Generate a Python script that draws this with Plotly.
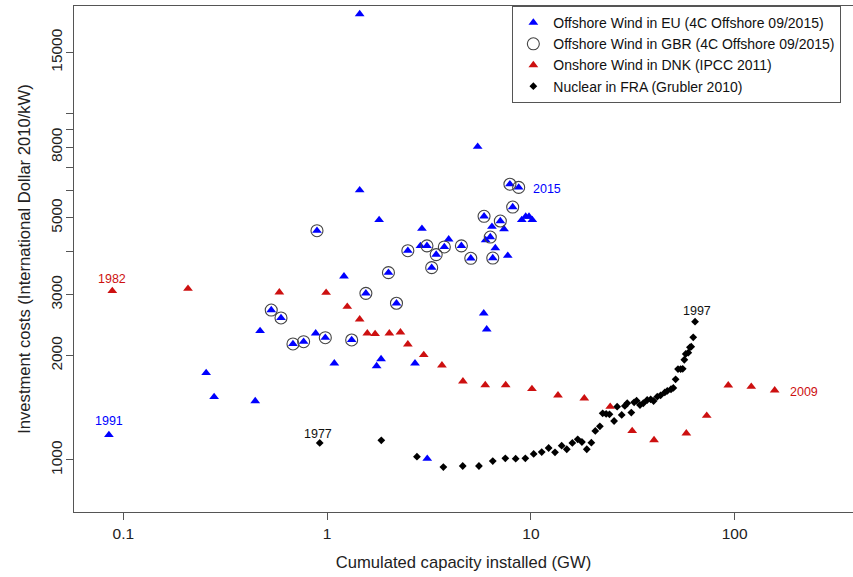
import plotly.graph_objects as go
import numpy as np

# Offshore wind in EU (4C Offshore 09/2015): cumulated capacity (GW), cost ($2010/kW)
eu_x = [0.085, 0.255, 0.279, 0.444, 0.469, 0.532, 0.594, 0.68, 0.767, 0.879, 0.892, 0.98,
        1.085, 1.21, 1.32, 1.445, 1.445, 1.55, 1.75, 1.80, 1.84, 2.0, 2.19, 2.49, 2.70,
        2.87, 2.92, 3.09, 3.10, 3.26, 3.43, 3.76, 3.95, 4.56, 5.07, 5.48, 5.87, 5.89, 6.0,
        6.07, 6.32, 6.44, 6.50, 6.69, 7.08, 7.38, 7.70, 7.89, 8.14, 8.71, 9.02, 9.43, 9.79,
        10.16]
eu_y = [1181, 1783, 1520, 1480, 2357, 2709, 2570, 2162, 2195, 2321, 4590, 2254,
        1901, 3390, 2220, 19370, 6010, 3027, 1867, 4930, 1956, 3473, 2834, 4018, 1901,
        4147, 4650, 4150, 1009, 3590, 3915, 4120, 4335, 4150, 3820, 8020, 2650, 5050, 4314,
        2384, 4400, 4713, 3827, 4090, 4895, 4640, 3888, 6250, 5370, 6120, 4930, 5040, 5040,
        4930]

# Offshore wind in GBR (subset, circled)
gbr_x = [0.532, 0.594, 0.68, 0.767, 0.98, 1.32, 0.892, 1.55, 2.19, 2.0, 2.49, 3.09,
         3.26, 3.43, 3.76, 4.56, 5.07, 6.50, 6.32, 5.89, 7.08, 8.14, 7.89, 8.71]
gbr_y = [2709, 2570, 2162, 2195, 2254, 2220, 4590, 3027, 2834, 3473, 4018, 4150,
         3590, 3915, 4120, 4150, 3820, 3827, 4400, 5050, 4895, 5370, 6250, 6120]

# Onshore wind in DNK (IPCC 2011), 1982-2009
dnk_x = [0.0883, 0.2077, 0.583, 0.989, 1.256, 1.445, 1.575, 1.72, 2.02, 2.29, 2.49, 2.98,
         3.66, 4.64, 5.97, 7.52, 10.12, 13.58, 18.28, 24.5, 31.4, 40.2, 57.9, 72.9, 93.0,
         120.6, 157.1]
dnk_y = [3075, 3122, 3048, 3040, 2770, 2547, 2321, 2311, 2321, 2336, 2157, 2010,
         1876, 1687, 1646, 1646, 1603, 1537, 1507, 1425, 1213, 1142, 1194, 1342, 1643,
         1628, 1589]

# Nuclear in FRA (Grubler 2010), 1977-1997
fra_x = [0.92, 1.845, 2.76, 3.72, 4.63, 5.56, 6.50, 7.49, 8.42, 9.39, 10.32, 11.30, 12.22,
         13.13, 14.16, 15.0, 15.97, 16.97, 17.8, 18.8, 19.8, 20.7, 21.8, 22.5, 23.4, 24.3,
         25.6, 26.5, 27.9, 28.9, 29.7, 31.1, 32.1, 33.0, 34.3, 35.6, 37.2, 38.7, 40.0, 41.7,
         43.3, 45.4, 46.7, 48.7, 50.0, 51.3, 52.7, 54.3, 55.6, 56.6, 57.5, 59.2, 60.3, 61.2,
         62.6, 63.9]
fra_y = [1120, 1140, 1022, 954, 961, 961, 993, 1011, 1009, 1011, 1041, 1054, 1083,
         1052, 1100, 1074, 1120, 1147, 1127, 1074, 1122, 1213, 1251, 1364, 1358, 1355,
         1296, 1425, 1349, 1432, 1458, 1370, 1467, 1483, 1441, 1458, 1490, 1497, 1480, 1523,
         1537, 1567, 1582, 1600, 1614, 1709, 1830, 1830, 1833, 1947, 2023, 2040, 2115, 2123,
         2260, 2508]

x_ticks = [0.1, 1, 10, 100]
x_ticktext = ["0.1", "1", "10", "100"]
y_ticks = [1000, 2000, 3000, 4000, 5000, 6000, 7000, 8000, 9000, 10000, 15000]
y_ticktext = ["1000", "2000", "3000", "", "5000", "", "", "8000", "", "", "15000"]

BLUE = "#0000FF"
RED = "#CD1010"
FONT = "Liberation Sans"

fig = go.Figure()
fig.add_trace(go.Scatter(x=eu_x, y=eu_y, mode="markers",
                         name="Offshore Wind in EU (4C Offshore 09/2015)",
                         marker=dict(symbol="triangle-up", size=8.5, color=BLUE)))
fig.add_trace(go.Scatter(x=gbr_x, y=gbr_y, mode="markers",
                         name="Offshore Wind in GBR (4C Offshore 09/2015)",
                         marker=dict(symbol="circle-open", size=12, color="#444444",
                                     line=dict(width=1.1, color="#444444"))))
fig.add_trace(go.Scatter(x=dnk_x, y=dnk_y, mode="markers",
                         name="Onshore Wind in DNK (IPCC 2011)",
                         marker=dict(symbol="triangle-up", size=8.5, color=RED)))
fig.add_trace(go.Scatter(x=fra_x, y=fra_y, mode="markers",
                         name="Nuclear in FRA (Grubler 2010)",
                         marker=dict(symbol="diamond", size=6, color="black")))

def label(x, y, text, color, xs=0, ys=0):
    fig.add_annotation(x=np.log10(x), y=np.log10(y), text=text, showarrow=False,
                       xshift=xs, yshift=ys, font=dict(family=FONT, size=12.5, color=color))

label(eu_x[0], eu_y[0], "1991", BLUE, 0, 14)
label(gbr_x[-1], gbr_y[-1], "2015", BLUE, 28, -2)
label(dnk_x[0], dnk_y[0], "1982", RED, 0, 12)
label(dnk_x[-1], dnk_y[-1], "2009", RED, 29, -2)
label(fra_x[0], fra_y[0], "1977", "#111111", -2, 9)
label(fra_x[-1], fra_y[-1], "1997", "#111111", 2, 11)

axis_common = dict(showgrid=False, zeroline=False, showline=True, linecolor="#555555",
                   linewidth=1, ticks="outside", ticklen=7, tickcolor="#555555",
                   automargin=False,
                   tickfont=dict(family=FONT, size=15.5, color="#222222"))

fig.update_xaxes(type="log", range=[-1.2419, 2.5805], tickvals=x_ticks, ticktext=x_ticktext,
                 mirror=True,
                 title=dict(text="Cumulated capacity installed (GW)", standoff=15,
                            font=dict(family=FONT, size=16.6, color="#222222")),
                 **axis_common)
fig.update_yaxes(type="log", range=[2.8499, 4.3103], tickvals=y_ticks, ticktext=y_ticktext,
                 tickangle=-90, ticklabelstandoff=-2,
                 title=dict(text="Investment costs (International Dollar 2010/kW)", standoff=12,
                            font=dict(family=FONT, size=16.6, color="#222222")),
                 **axis_common)

fig.update_layout(width=853, height=577, margin=dict(l=74, r=0, t=6, b=65, autoexpand=False),
                  paper_bgcolor="white", plot_bgcolor="white",
                  font=dict(family=FONT, color="#222222"),
                  showlegend=True,
                  legend=dict(x=0.5627, y=1, xanchor="left", yanchor="top",
                              bordercolor="#555555", borderwidth=1, bgcolor="white",
                              font=dict(family=FONT, size=14, color="#111111"),
                              tracegroupgap=0))

fig.write_html("out.html", config={"displayModeBar": False},
               post_script="document.body.style.margin='0';")
